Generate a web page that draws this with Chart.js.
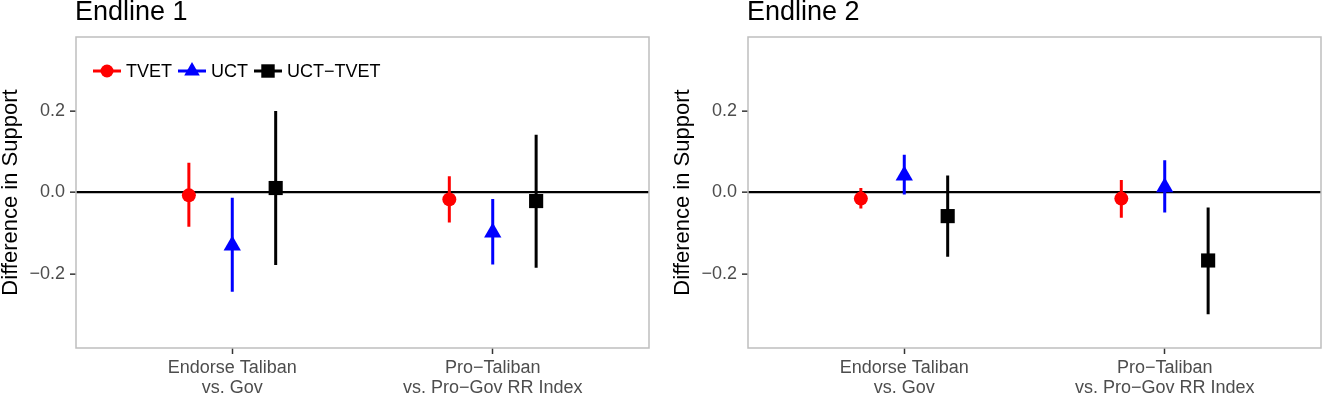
<!DOCTYPE html>
<html><head><meta charset="utf-8">
<script src="https://cdn.jsdelivr.net/npm/chart.js@4.4.1/dist/chart.umd.min.js"></script>
<style>
html,body{margin:0;padding:0;background:#fff;}
#wrap{position:relative;width:1322px;height:393px;overflow:hidden;background:#fff;}
#wrap canvas{position:absolute;top:0;}
</style></head><body>
<div id="wrap">
<canvas id="c1" width="650" height="393" style="left:0px"></canvas>
<canvas id="c2" width="650" height="393" style="left:672px"></canvas>
</div>
<script>
// ---------- data ----------
const categories = [['Endorse Taliban', 'vs. Gov'], ['Pro\u2212Taliban', 'vs. Pro\u2212Gov RR Index']];
const seriesNames = ['TVET', 'UCT', 'UCT\u2212TVET'];
const panelTitles = ['Endline 1', 'Endline 2'];
const yTitle = 'Difference in Support';
const yTicks = [-0.2, 0, 0.2];
const yTickLabels = ['\u22120.2', '0.0', '0.2'];
const yLimits = [-0.382, 0.382];

// Endline 1
const e1TvetEst = [-0.007, -0.017];
const e1TvetLo  = [-0.084, -0.074];
const e1TvetHi  = [ 0.073,  0.040];
const e1UctEst  = [-0.130, -0.098];
const e1UctLo   = [-0.244, -0.177];
const e1UctHi   = [-0.013, -0.016];
const e1DiffEst = [ 0.011, -0.021];
const e1DiffLo  = [-0.178, -0.185];
const e1DiffHi  = [ 0.200,  0.142];

// Endline 2
const e2TvetEst = [-0.015, -0.015];
const e2TvetLo  = [-0.039, -0.062];
const e2TvetHi  = [ 0.011,  0.031];
const e2UctEst  = [ 0.042,  0.013];
const e2UctLo   = [-0.005, -0.049];
const e2UctHi   = [ 0.093,  0.079];
const e2DiffEst = [-0.058, -0.167];
const e2DiffLo  = [-0.158, -0.299];
const e2DiffHi  = [ 0.042, -0.037];

// ---------- styling ----------
const FONT = "'Liberation Sans', Arial, Helvetica, sans-serif";
Chart.defaults.font.family = FONT;
const seriesColors = ['#FF0000', '#0000FF', '#000000'];
const seriesShapes = ['circle', 'triangle', 'rect'];
const seriesRadius = [7, 10, 10];
const legendRadius = [6.5, 9, 9.5];
const dodge = [-1 / 6, 0, 1 / 6];

function pointsData(est, s) {
  return est.map((v, i) => ({ x: i + 1 + dodge[s], y: v }));
}
function rangeData(lo, hi, s) {
  const d = [];
  lo.forEach((l, i) => {
    const x = i + 1 + dodge[s];
    d.push({ x: x, y: l }, { x: x, y: hi[i] }, { x: x, y: null });
  });
  return d;
}

function buildDatasets(est, lo, hi) {
  const ds = [];
  for (let s = 0; s < 3; s++) {
    ds.push({
      label: seriesNames[s], data: pointsData(est[s], s), showLine: false,
      pointStyle: seriesShapes[s], pointRadius: seriesRadius[s], pointHoverRadius: seriesRadius[s],
      backgroundColor: seriesColors[s], borderColor: seriesColors[s], pointBorderWidth: 0
    });
  }
  for (let s = 0; s < 3; s++) {
    ds.push({
      type: 'line', label: seriesNames[s] + ' range', data: rangeData(lo[s], hi[s], s),
      showLine: true, spanGaps: false, pointRadius: 0, pointHoverRadius: 0,
      borderColor: seriesColors[s], borderWidth: 3, borderCapStyle: 'butt', fill: false
    });
  }
  return ds;
}

const decorPlugin = {
  id: 'decor',
  beforeDatasetsDraw(chart, args, opts) {
    const ca = chart.chartArea, ctx = chart.ctx;
    ctx.save();
    ctx.strokeStyle = '#bebebe';
    ctx.lineWidth = 1.5;
    ctx.strokeRect(ca.left, ca.top, ca.right - ca.left, ca.bottom - ca.top);
    ctx.restore();
  },
  afterDraw(chart, args, opts) {
    const ca = chart.chartArea, ctx = chart.ctx;
    ctx.save();
    ctx.fillStyle = '#000';
    ctx.font = '27px ' + FONT;
    ctx.textAlign = 'left';
    ctx.textBaseline = 'alphabetic';
    ctx.fillText(opts.title, ca.left - 1, 20);
    if (opts.legend) {
      let x = ca.left + 17;
      const y = ca.top + 34;
      ctx.font = '18px ' + FONT;
      ctx.textBaseline = 'middle';
      for (let s = 0; s < 3; s++) {
        ctx.strokeStyle = seriesColors[s];
        ctx.fillStyle = seriesColors[s];
        ctx.lineWidth = 3;
        ctx.beginPath();
        ctx.moveTo(x, y); ctx.lineTo(x + 28, y);
        ctx.stroke();
        Chart.helpers.drawPoint(ctx, { pointStyle: seriesShapes[s], radius: legendRadius[s], rotation: 0, borderWidth: 0 }, x + 14, y);
        ctx.fillStyle = '#000';
        ctx.fillText(seriesNames[s], x + 33, y + 1);
        x += 33 + ctx.measureText(seriesNames[s]).width + 6;
      }
    }
    ctx.restore();
  }
};

function makeChart(id, title, legend, est, lo, hi) {
  return new Chart(document.getElementById(id), {
    type: 'scatter',
    data: { datasets: buildDatasets(est, lo, hi) },
    options: {
      responsive: false, animation: false, devicePixelRatio: 1,
      layout: { autoPadding: false, padding: { top: 37, right: 1, left: 0, bottom: 0 } },
      plugins: { legend: { display: false }, tooltip: { enabled: false }, decor: { title: title, legend: legend } },
      scales: {
        x: {
          type: 'linear', min: 0.4, max: 2.6,
          afterBuildTicks: s => { s.ticks = [{ value: 1 }, { value: 2 }]; },
          afterFit: s => { s.height = 45; s.paddingLeft = 0; s.paddingRight = 0; },
          ticks: { callback: v => categories[Math.round(v) - 1], color: '#4d4d4d', font: { size: 18, lineHeight: 1.1 }, padding: 4, maxRotation: 0, autoSkip: false },
          grid: { drawOnChartArea: false, drawTicks: true, tickLength: 6, tickColor: '#333333', tickWidth: 1.5 },
          border: { display: false }
        },
        y: {
          type: 'linear', min: yLimits[0], max: yLimits[1],
          afterBuildTicks: s => { s.ticks = yTicks.map(v => ({ value: v })); },
          afterFit: s => { s.width = 76; s.paddingTop = 0; s.paddingBottom = 0; },
          ticks: { callback: (v, i) => yTickLabels[i], color: '#4d4d4d', font: { size: 18 }, padding: 5 },
          grid: { color: c => (c.tick && c.tick.value === 0) ? '#000000' : 'rgba(0,0,0,0)', lineWidth: 2.3, drawTicks: true, tickLength: 6, tickColor: '#333333', tickWidth: 1.5 },
          border: { display: false },
          title: { display: true, text: yTitle, color: '#000', font: { size: 22, lineHeight: 1.0 }, padding: 0 }
        }
      }
    },
    plugins: [decorPlugin]
  });
}

makeChart('c1', panelTitles[0], true,
  [e1TvetEst, e1UctEst, e1DiffEst], [e1TvetLo, e1UctLo, e1DiffLo], [e1TvetHi, e1UctHi, e1DiffHi]);
makeChart('c2', panelTitles[1], false,
  [e2TvetEst, e2UctEst, e2DiffEst], [e2TvetLo, e2UctLo, e2DiffLo], [e2TvetHi, e2UctHi, e2DiffHi]);
</script>
</body></html>
